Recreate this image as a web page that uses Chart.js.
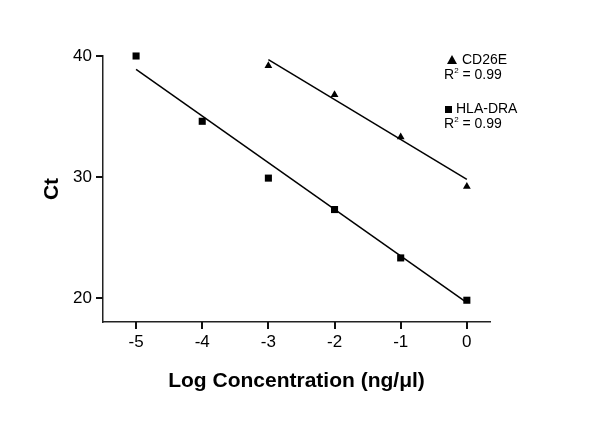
<!DOCTYPE html>
<html>
<head>
<meta charset="utf-8">
<script src="https://cdn.jsdelivr.net/npm/chart.js@4.4.1/dist/chart.umd.min.js"></script>
<style>
  html, body { margin: 0; padding: 0; background: #fff; }
  #wrap { position: relative; width: 600px; height: 424px; }
  .key { position: absolute; left: 444px; font: 14px "Liberation Sans", Arial, sans-serif; line-height: 15px; color: #000; white-space: nowrap; }
  .key sup { font-size: 8px; line-height: 0; vertical-align: 6px; }
  .tri { display: inline-block; width: 0; height: 0; margin: 0 5px 0 3px; border-left: 5px solid transparent; border-right: 5px solid transparent; border-bottom: 9px solid #000; }
  .sq { display: inline-block; width: 7px; height: 7px; margin: 0 4px 0 1px; background: #000; }
</style>
</head>
<body>
<div id="wrap">
  <canvas id="ctChart" width="600" height="424"></canvas>
  <div class="key" style="top:52px"><span class="tri"></span>CD26E<br>R<sup>2</sup> = 0.99</div>
  <div class="key" style="top:101px"><span class="sq"></span>HLA-DRA<br>R<sup>2</sup> = 0.99</div>
</div>
<script>
// values
const logConc = [-5, -4, -3, -2, -1, 0];
const hlaCt = [40.0, 34.6, 29.9, 27.3, 23.3, 19.8];
const cdLogConc = [-3, -2, -1, 0];
const cdCt = [39.2, 36.8, 33.3, 29.2];

// end points of the fitted lines
const hlaFitX = [-5, 0];
const hlaFitCt = [38.9, 19.6];
const cdFitX = [-3, 0];
const cdFitCt = [39.7, 29.8];

const xTicks = [-5, -4, -3, -2, -1, 0];
const yTicks = [20, 30, 40];

const toPoints = (xs, ys) => xs.map((x, i) => ({ x: x, y: ys[i] }));

Chart.defaults.font.family = '"Liberation Sans", Arial, sans-serif';
Chart.defaults.color = '#000';

// outer tick marks, placed from the scale's own tick positions
const tickMarks = {
    id: 'tickMarks',
    afterDraw(chart) {
        const ctx = chart.ctx;
        const xs = chart.scales.x, ys = chart.scales.y;
        ctx.save();
        ctx.fillStyle = '#111';
        xs.ticks.forEach(t => {
            const px = Math.round(xs.getPixelForValue(t.value));
            ctx.fillRect(px - 1, xs.top, 2, 7);
        });
        ys.ticks.forEach(t => {
            const py = Math.round(ys.getPixelForValue(t.value));
            ctx.fillRect(ys.right - 7, py - 1, 7, 2);
        });
        ctx.restore();
    }
};

new Chart(document.getElementById('ctChart'), {
    type: 'scatter',
    data: {
        datasets: [
            {
                label: 'CD26E',
                data: toPoints(cdLogConc, cdCt),
                pointStyle: 'triangle',
                pointRadius: 4.5,
                backgroundColor: '#000',
                borderColor: '#000',
                borderWidth: 0,
                clip: false
            },
            {
                label: 'HLA-DRA',
                data: toPoints(logConc, hlaCt),
                pointStyle: 'rect',
                pointRadius: 5,
                backgroundColor: '#000',
                borderColor: '#000',
                borderWidth: 0,
                clip: false
            },
            {
                label: 'CD26E fit',
                data: toPoints(cdFitX, cdFitCt),
                showLine: true,
                pointRadius: 0,
                borderColor: '#000',
                borderWidth: 1.5,
                clip: false
            },
            {
                label: 'HLA-DRA fit',
                data: toPoints(hlaFitX, hlaFitCt),
                showLine: true,
                pointRadius: 0,
                borderColor: '#000',
                borderWidth: 1.5,
                clip: false
            }
        ]
    },
    options: {
        responsive: false,
        animation: false,
        layout: { padding: { top: 56, right: 110, bottom: 0, left: 0 } },
        plugins: { legend: { display: false }, tooltip: { enabled: false } },
        scales: {
            x: {
                type: 'linear',
                min: -5.5,
                max: 0.35,
                afterBuildTicks: s => { s.ticks = xTicks.map(v => ({ value: v })); },
                afterFit: s => { s.height = 102; },
                grid: { display: false, drawTicks: true, tickLength: 7 },
                border: { display: true, color: '#222', width: 1.5 },
                ticks: { font: { size: 17 }, padding: 3 },
                title: {
                    display: true,
                    text: 'Log Concentration (ng/\u03bcl)',
                    font: { size: 21, weight: 'bold' },
                    padding: { top: 0, bottom: 30 }
                }
            },
            y: {
                type: 'linear',
                min: 18,
                max: 40,
                afterBuildTicks: s => { s.ticks = yTicks.map(v => ({ value: v })); },
                afterFit: s => { s.width = 103; },
                grid: { display: false, drawTicks: true, tickLength: 6 },
                border: { display: true, color: '#222', width: 1.5 },
                ticks: { font: { size: 17 }, padding: 5 },
                title: {
                    display: true,
                    text: 'Ct',
                    font: { size: 21, weight: 'bold' },
                    padding: { top: 40, bottom: 0 }
                }
            }
        }
    },
    plugins: [tickMarks]
});
</script>
</body>
</html>
